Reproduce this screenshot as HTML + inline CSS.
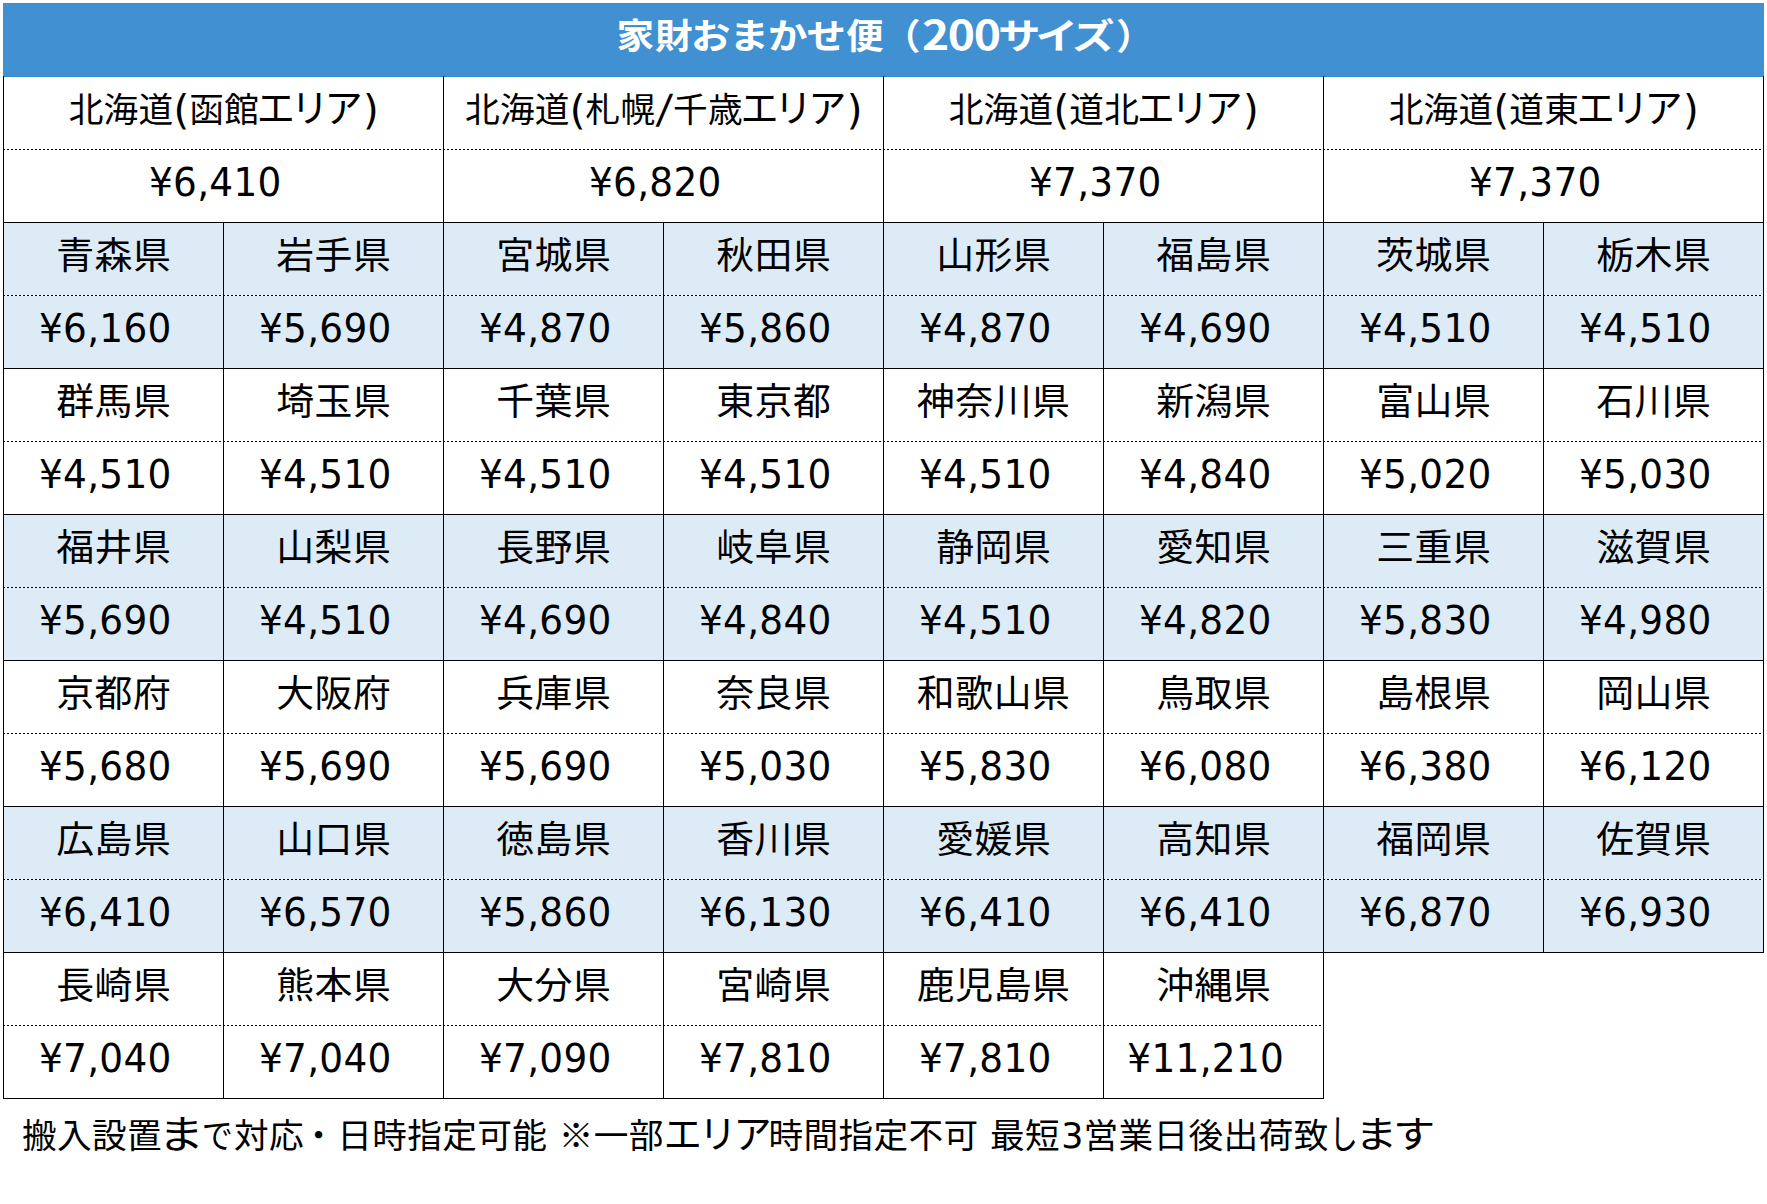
<!DOCTYPE html>
<html lang="ja"><head><meta charset="utf-8"><title>家財おまかせ便（200サイズ）</title>
<style>
html,body{margin:0;padding:0;background:#fff;}
body{width:1767px;height:1204px;position:relative;overflow:hidden;font-family:"Liberation Sans","Noto Sans CJK JP",sans-serif;color:#000;}
.hd{position:absolute;left:3px;top:3px;width:1761px;height:73px;background:#4190d2;border-bottom:1px solid #3789ce;color:#fff;font-weight:bold;font-size:37.6px;line-height:73px;white-space:nowrap;}
.hd span{position:absolute;top:-2px;transform-origin:0 50%;}
.hd .tn{font-family:"Noto Sans CJK JP","Liberation Sans",sans-serif;font-size:40px;letter-spacing:-1.2px;transform-origin:0 50%;transform:translateY(-4.5px) scaleX(1.155);}
b.k{font-weight:inherit;font-size:110%;letter-spacing:-0.085em;}
.bg{position:absolute;left:3px;width:1761px;height:146px;background:#ddebf7;}
.v{position:absolute;width:1px;background:#000;}
.h{position:absolute;height:1px;background:#000;left:3px;}
.d{position:absolute;height:1px;left:3px;background:repeating-linear-gradient(90deg,#000 0,#000 2px,#fff 2px,#fff 4px);}
.c{position:absolute;height:73px;line-height:73px;text-align:center;white-space:nowrap;}
.c>span{display:inline-block;}
.j{font-size:37.33px;letter-spacing:0.5px;}
.j>span{transform:translate(1px,-2px) scaleX(1.015);}
.a{font-size:34.67px;letter-spacing:0.3px;}
.a>span{transform:translate(0.7px,-4.5px);}
.a b.k{letter-spacing:-0.11em;margin:0 4.5px 0 -2.5px;}
.a i{font-style:normal;font-family:"DejaVu Sans","Liberation Sans",sans-serif;font-size:40.4px;letter-spacing:0;display:inline-block;line-height:1;position:relative;top:1.5px;}
.a i.pl{margin:0 0px 0 0px;}
.a i.pr{margin:0 0px 0 0px;}
.a i.sl{font-size:40px;top:1px;transform:skewX(-7deg);margin:0 2px;}
.n{font-family:"DejaVu Sans","Liberation Sans",sans-serif;font-size:38.8px;letter-spacing:0.3px;}
.n>span{transform:translate(-7.5px,-3px) scaleX(0.965);}
.ft{position:absolute;left:22px;top:1112px;font-size:34.67px;line-height:46px;white-space:nowrap;letter-spacing:0.36px;word-spacing:1.5px;}
.ft b.q{display:inline-block;text-align:center;font-weight:inherit;letter-spacing:0;}
.ft b.q1{width:38px;font-size:110%;transform:scaleX(1.2);}
.ft b.q2{width:34px;transform:scaleX(0.9);}
.ft b.dt{font-weight:inherit;margin:0 1px 0 -3px;}
.ft b.s1{display:inline-block;transform:scaleX(0.74);margin:0 -5px 0 -4px;}
.ft b.s2{display:inline-block;transform-origin:0 50%;transform:scaleX(1.13);font-size:108%;letter-spacing:-0.1em;margin-left:0px;}
.ft i{font-style:normal;font-family:"DejaVu Sans","Liberation Sans",sans-serif;font-size:35.3px;letter-spacing:0;display:inline-block;line-height:1;transform:scaleX(0.985);margin:0 0.5px;}
</style></head><body>
<div class="hd"><span style="left:613.4px;letter-spacing:1px;transform:scale(1,0.95);">家財</span><span style="left:688px;letter-spacing:-0.9px;transform:scale(1.05,0.95);">おまかせ</span><span style="left:843px;transform:scale(1,0.95);">便</span><span style="left:880px;transform:scale(1,0.95);">（</span><span class="tn" style="left:918.5px;">200</span><span style="left:995px;letter-spacing:-4.3px;transform:scale(1.13,0.95);">サイズ</span><span style="left:1113px;transform:scale(1,0.95);">）</span></div>
<div class="bg" style="top:222px"></div>
<div class="bg" style="top:514px"></div>
<div class="bg" style="top:806px"></div>
<div class="c a" style="left:3px;top:76px;width:440px"><span>北海道<i class="pl">(</i>函館<b class="k">エリア</b><i class="pr">)</i></span></div>
<div class="c n" style="left:3px;top:149px;width:440px"><span>¥6,410</span></div>
<div class="c a" style="left:443px;top:76px;width:440px"><span>北海道<i class="pl">(</i>札幌<i class="sl">/</i>千歳<b class="k">エリア</b><i class="pr">)</i></span></div>
<div class="c n" style="left:443px;top:149px;width:440px"><span>¥6,820</span></div>
<div class="c a" style="left:883px;top:76px;width:440px"><span>北海道<i class="pl">(</i>道北<b class="k">エリア</b><i class="pr">)</i></span></div>
<div class="c n" style="left:883px;top:149px;width:440px"><span>¥7,370</span></div>
<div class="c a" style="left:1323px;top:76px;width:440px"><span>北海道<i class="pl">(</i>道東<b class="k">エリア</b><i class="pr">)</i></span></div>
<div class="c n" style="left:1323px;top:149px;width:440px"><span>¥7,370</span></div>
<div class="c j" style="left:3px;top:222px;width:220px"><span>青森県</span></div>
<div class="c n" style="left:3px;top:295px;width:220px"><span>¥6,160</span></div>
<div class="c j" style="left:223px;top:222px;width:220px"><span>岩手県</span></div>
<div class="c n" style="left:223px;top:295px;width:220px"><span>¥5,690</span></div>
<div class="c j" style="left:443px;top:222px;width:220px"><span>宮城県</span></div>
<div class="c n" style="left:443px;top:295px;width:220px"><span>¥4,870</span></div>
<div class="c j" style="left:663px;top:222px;width:220px"><span>秋田県</span></div>
<div class="c n" style="left:663px;top:295px;width:220px"><span>¥5,860</span></div>
<div class="c j" style="left:883px;top:222px;width:220px"><span>山形県</span></div>
<div class="c n" style="left:883px;top:295px;width:220px"><span>¥4,870</span></div>
<div class="c j" style="left:1103px;top:222px;width:220px"><span>福島県</span></div>
<div class="c n" style="left:1103px;top:295px;width:220px"><span>¥4,690</span></div>
<div class="c j" style="left:1323px;top:222px;width:220px"><span>茨城県</span></div>
<div class="c n" style="left:1323px;top:295px;width:220px"><span>¥4,510</span></div>
<div class="c j" style="left:1543px;top:222px;width:220px"><span>栃木県</span></div>
<div class="c n" style="left:1543px;top:295px;width:220px"><span>¥4,510</span></div>
<div class="c j" style="left:3px;top:368px;width:220px"><span>群馬県</span></div>
<div class="c n" style="left:3px;top:441px;width:220px"><span>¥4,510</span></div>
<div class="c j" style="left:223px;top:368px;width:220px"><span>埼玉県</span></div>
<div class="c n" style="left:223px;top:441px;width:220px"><span>¥4,510</span></div>
<div class="c j" style="left:443px;top:368px;width:220px"><span>千葉県</span></div>
<div class="c n" style="left:443px;top:441px;width:220px"><span>¥4,510</span></div>
<div class="c j" style="left:663px;top:368px;width:220px"><span>東京都</span></div>
<div class="c n" style="left:663px;top:441px;width:220px"><span>¥4,510</span></div>
<div class="c j" style="left:883px;top:368px;width:220px"><span>神奈川県</span></div>
<div class="c n" style="left:883px;top:441px;width:220px"><span>¥4,510</span></div>
<div class="c j" style="left:1103px;top:368px;width:220px"><span>新潟県</span></div>
<div class="c n" style="left:1103px;top:441px;width:220px"><span>¥4,840</span></div>
<div class="c j" style="left:1323px;top:368px;width:220px"><span>富山県</span></div>
<div class="c n" style="left:1323px;top:441px;width:220px"><span>¥5,020</span></div>
<div class="c j" style="left:1543px;top:368px;width:220px"><span>石川県</span></div>
<div class="c n" style="left:1543px;top:441px;width:220px"><span>¥5,030</span></div>
<div class="c j" style="left:3px;top:514px;width:220px"><span>福井県</span></div>
<div class="c n" style="left:3px;top:587px;width:220px"><span>¥5,690</span></div>
<div class="c j" style="left:223px;top:514px;width:220px"><span>山梨県</span></div>
<div class="c n" style="left:223px;top:587px;width:220px"><span>¥4,510</span></div>
<div class="c j" style="left:443px;top:514px;width:220px"><span>長野県</span></div>
<div class="c n" style="left:443px;top:587px;width:220px"><span>¥4,690</span></div>
<div class="c j" style="left:663px;top:514px;width:220px"><span>岐阜県</span></div>
<div class="c n" style="left:663px;top:587px;width:220px"><span>¥4,840</span></div>
<div class="c j" style="left:883px;top:514px;width:220px"><span>静岡県</span></div>
<div class="c n" style="left:883px;top:587px;width:220px"><span>¥4,510</span></div>
<div class="c j" style="left:1103px;top:514px;width:220px"><span>愛知県</span></div>
<div class="c n" style="left:1103px;top:587px;width:220px"><span>¥4,820</span></div>
<div class="c j" style="left:1323px;top:514px;width:220px"><span>三重県</span></div>
<div class="c n" style="left:1323px;top:587px;width:220px"><span>¥5,830</span></div>
<div class="c j" style="left:1543px;top:514px;width:220px"><span>滋賀県</span></div>
<div class="c n" style="left:1543px;top:587px;width:220px"><span>¥4,980</span></div>
<div class="c j" style="left:3px;top:660px;width:220px"><span>京都府</span></div>
<div class="c n" style="left:3px;top:733px;width:220px"><span>¥5,680</span></div>
<div class="c j" style="left:223px;top:660px;width:220px"><span>大阪府</span></div>
<div class="c n" style="left:223px;top:733px;width:220px"><span>¥5,690</span></div>
<div class="c j" style="left:443px;top:660px;width:220px"><span>兵庫県</span></div>
<div class="c n" style="left:443px;top:733px;width:220px"><span>¥5,690</span></div>
<div class="c j" style="left:663px;top:660px;width:220px"><span>奈良県</span></div>
<div class="c n" style="left:663px;top:733px;width:220px"><span>¥5,030</span></div>
<div class="c j" style="left:883px;top:660px;width:220px"><span>和歌山県</span></div>
<div class="c n" style="left:883px;top:733px;width:220px"><span>¥5,830</span></div>
<div class="c j" style="left:1103px;top:660px;width:220px"><span>鳥取県</span></div>
<div class="c n" style="left:1103px;top:733px;width:220px"><span>¥6,080</span></div>
<div class="c j" style="left:1323px;top:660px;width:220px"><span>島根県</span></div>
<div class="c n" style="left:1323px;top:733px;width:220px"><span>¥6,380</span></div>
<div class="c j" style="left:1543px;top:660px;width:220px"><span>岡山県</span></div>
<div class="c n" style="left:1543px;top:733px;width:220px"><span>¥6,120</span></div>
<div class="c j" style="left:3px;top:806px;width:220px"><span>広島県</span></div>
<div class="c n" style="left:3px;top:879px;width:220px"><span>¥6,410</span></div>
<div class="c j" style="left:223px;top:806px;width:220px"><span>山口県</span></div>
<div class="c n" style="left:223px;top:879px;width:220px"><span>¥6,570</span></div>
<div class="c j" style="left:443px;top:806px;width:220px"><span>徳島県</span></div>
<div class="c n" style="left:443px;top:879px;width:220px"><span>¥5,860</span></div>
<div class="c j" style="left:663px;top:806px;width:220px"><span>香川県</span></div>
<div class="c n" style="left:663px;top:879px;width:220px"><span>¥6,130</span></div>
<div class="c j" style="left:883px;top:806px;width:220px"><span>愛媛県</span></div>
<div class="c n" style="left:883px;top:879px;width:220px"><span>¥6,410</span></div>
<div class="c j" style="left:1103px;top:806px;width:220px"><span>高知県</span></div>
<div class="c n" style="left:1103px;top:879px;width:220px"><span>¥6,410</span></div>
<div class="c j" style="left:1323px;top:806px;width:220px"><span>福岡県</span></div>
<div class="c n" style="left:1323px;top:879px;width:220px"><span>¥6,870</span></div>
<div class="c j" style="left:1543px;top:806px;width:220px"><span>佐賀県</span></div>
<div class="c n" style="left:1543px;top:879px;width:220px"><span>¥6,930</span></div>
<div class="c j" style="left:3px;top:952px;width:220px"><span>長崎県</span></div>
<div class="c n" style="left:3px;top:1025px;width:220px"><span>¥7,040</span></div>
<div class="c j" style="left:223px;top:952px;width:220px"><span>熊本県</span></div>
<div class="c n" style="left:223px;top:1025px;width:220px"><span>¥7,040</span></div>
<div class="c j" style="left:443px;top:952px;width:220px"><span>大分県</span></div>
<div class="c n" style="left:443px;top:1025px;width:220px"><span>¥7,090</span></div>
<div class="c j" style="left:663px;top:952px;width:220px"><span>宮崎県</span></div>
<div class="c n" style="left:663px;top:1025px;width:220px"><span>¥7,810</span></div>
<div class="c j" style="left:883px;top:952px;width:220px"><span>鹿児島県</span></div>
<div class="c n" style="left:883px;top:1025px;width:220px"><span>¥7,810</span></div>
<div class="c j" style="left:1103px;top:952px;width:220px"><span>沖縄県</span></div>
<div class="c n" style="left:1103px;top:1025px;width:220px"><span>¥11,210</span></div>
<div class="h" style="top:222px;width:1761px"></div>
<div class="h" style="top:368px;width:1761px"></div>
<div class="h" style="top:514px;width:1761px"></div>
<div class="h" style="top:660px;width:1761px"></div>
<div class="h" style="top:806px;width:1761px"></div>
<div class="h" style="top:952px;width:1761px"></div>
<div class="h" style="top:1098px;width:1321px"></div>
<div class="d" style="top:149px;width:1761px"></div>
<div class="d" style="top:295px;width:1761px"></div>
<div class="d" style="top:441px;width:1761px"></div>
<div class="d" style="top:587px;width:1761px"></div>
<div class="d" style="top:733px;width:1761px"></div>
<div class="d" style="top:879px;width:1761px"></div>
<div class="d" style="top:1025px;width:1321px"></div>
<div class="v" style="left:3px;top:76px;height:1023px"></div>
<div class="v" style="left:223px;top:222px;height:877px"></div>
<div class="v" style="left:443px;top:76px;height:1023px"></div>
<div class="v" style="left:663px;top:222px;height:877px"></div>
<div class="v" style="left:883px;top:76px;height:1023px"></div>
<div class="v" style="left:1103px;top:222px;height:877px"></div>
<div class="v" style="left:1323px;top:76px;height:1023px"></div>
<div class="v" style="left:1543px;top:222px;height:731px"></div>
<div class="v" style="left:1763px;top:76px;height:877px"></div>
<div class="ft">搬入設置<b class="q q1">ま</b><b class="q q2">で</b>対応<b class="dt">・</b>日時指定可能 ※一部<b class="k">エリア</b>時間指定不可 最短<i>3</i>営業日後出荷致<b class="k s1">し</b><b class="k s2">ます</b></div>
</body></html>
